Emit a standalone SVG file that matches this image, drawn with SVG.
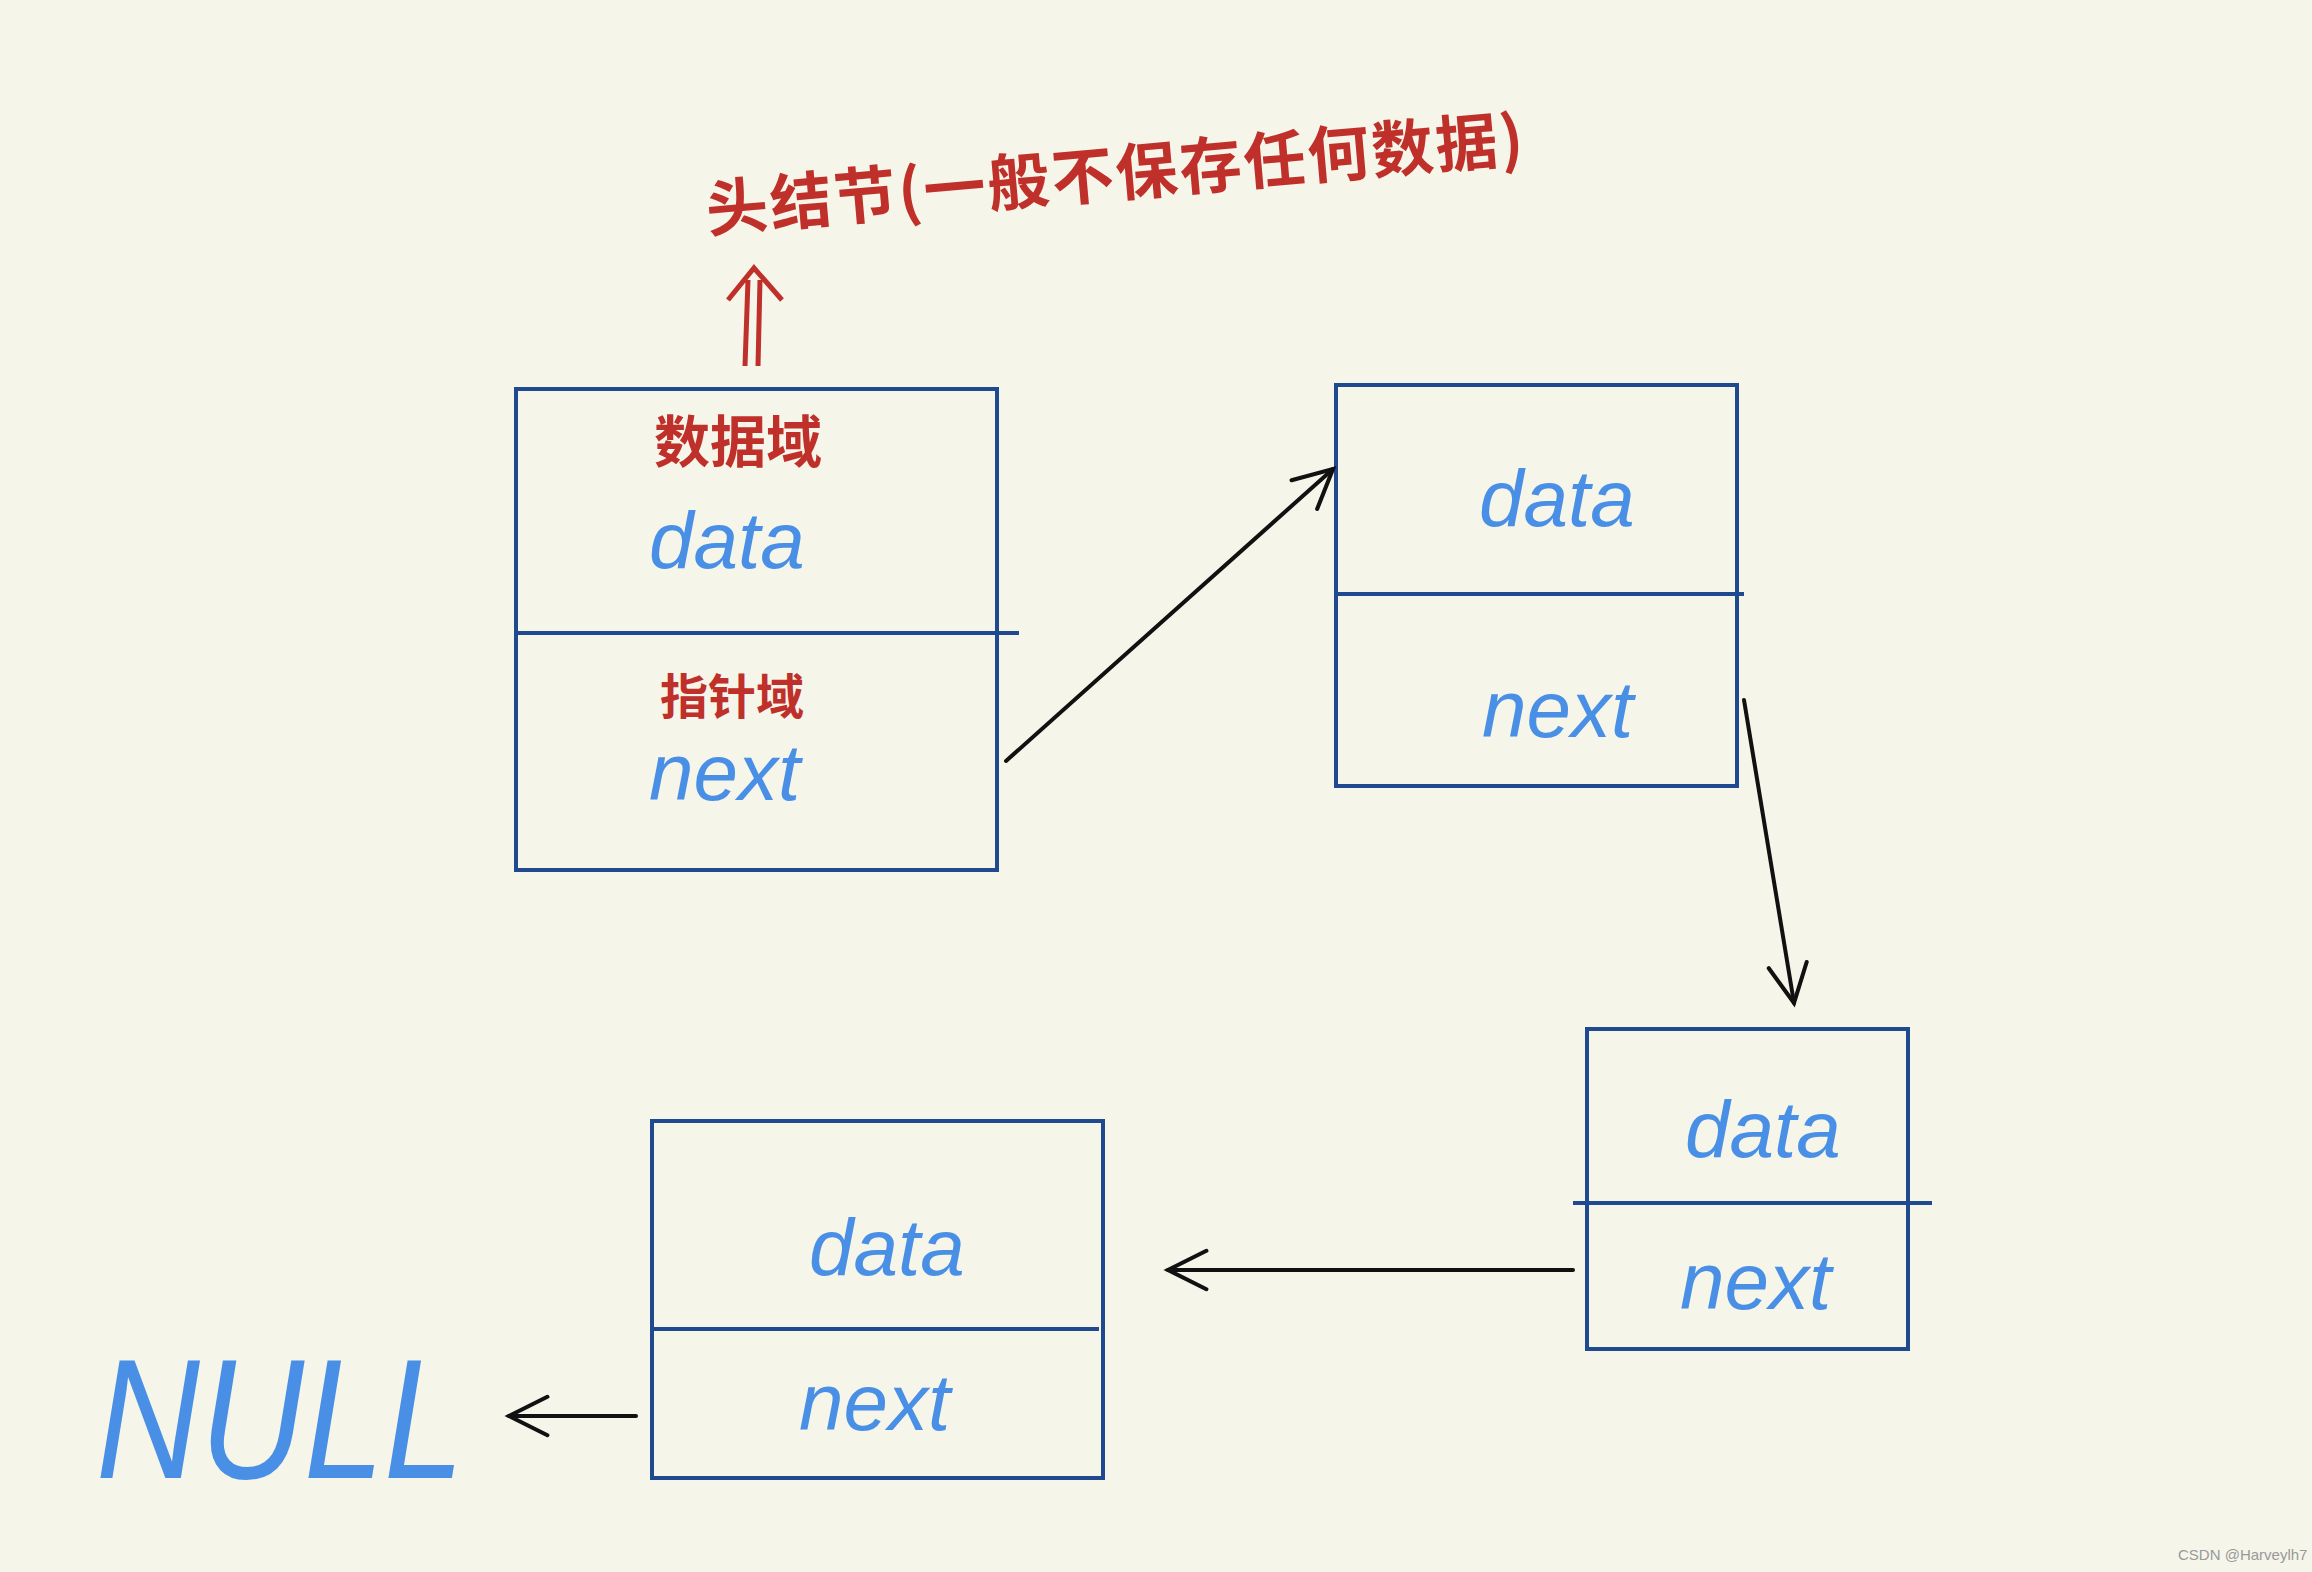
<svg xmlns="http://www.w3.org/2000/svg" width="2312" height="1572" viewBox="0 0 2312 1572">
<style>
.box{fill:none;stroke:#1f4a8f;stroke-width:4}
.blue{fill:#4a8fe6;font-family:"Liberation Sans",sans-serif;font-style:italic;font-size:80px}
.red{fill:#c0302a;font-family:"Noto Sans CJK SC",sans-serif;font-weight:bold}
.con{stroke:#111;stroke-width:4;fill:none;stroke-linecap:round}
</style>
<defs><marker id="a" viewBox="0 0 20 20" refX="18" refY="10" markerWidth="48" markerHeight="48" markerUnits="userSpaceOnUse" orient="auto"><path d="M2 2 L18 10 L2 18" fill="none" stroke="#111" stroke-width="1.7" stroke-linecap="round"/></marker></defs>
<rect width="2312" height="1572" fill="#f5f5ea"/>
<g id="title"><text class="red" font-size="62" textLength="820" transform="translate(708,232) rotate(-5)">头结节(一般不保存任何数据)</text>
<path d="M745 366 L748 280 M758 366 L760 280 M728 300 L754 268 L782 300" stroke="#c0302a" stroke-width="5" fill="none"/></g>
<g id="node1"><rect class="box" x="516" y="389" width="481" height="481"/><line class="box" x1="516" y1="633" x2="1019" y2="633"/>
<text class="red" font-size="56" x="654" y="462">数据域</text><text class="blue" x="649" y="568">data</text>
<text class="red" font-size="48" x="660" y="714">指针域</text><text class="blue" x="649" y="800">next</text></g>
<g id="node2"><rect class="box" x="1336" y="385" width="401" height="401"/><line class="box" x1="1336" y1="594" x2="1744" y2="594"/>
<text class="blue" x="1479" y="526">data</text><text class="blue" x="1482" y="737">next</text></g>
<g id="node3"><rect class="box" x="1587" y="1029" width="321" height="320"/><line class="box" x1="1573" y1="1203" x2="1932" y2="1203"/>
<text class="blue" x="1685" y="1157">data</text><text class="blue" x="1680" y="1309">next</text></g>
<g id="node4"><rect class="box" x="652" y="1121" width="451" height="357"/><line class="box" x1="652" y1="1329" x2="1099" y2="1329"/>
<text class="blue" x="809" y="1275">data</text><text class="blue" x="799" y="1430">next</text></g>
<g id="null"><text class="blue" style="font-size:170px" x="96" y="1478" textLength="368" lengthAdjust="spacingAndGlyphs">NULL</text></g>
<g id="connectors">
<line class="con" x1="1006" y1="761" x2="1333" y2="469" marker-end="url(#a)"/>
<line class="con" x1="1744" y1="700" x2="1794" y2="1003" marker-end="url(#a)"/>
<line class="con" x1="1573" y1="1270" x2="1168" y2="1270" marker-end="url(#a)"/>
<line class="con" x1="636" y1="1416" x2="509" y2="1416" marker-end="url(#a)"/>
</g>
<text x="2178" y="1560" font-family="Liberation Sans,sans-serif" font-size="15" fill="#999">CSDN @Harveylh7</text>
</svg>
